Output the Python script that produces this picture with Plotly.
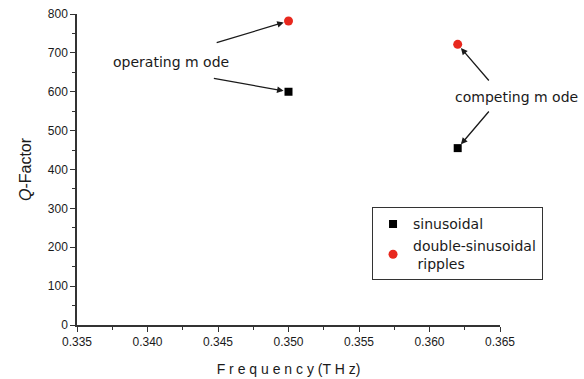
import plotly.graph_objects as go

freq_sin = [0.350, 0.362]
q_sin = [600, 455]
freq_dbl = [0.350, 0.362]
q_dbl = [782, 722]

x_ticks = [0.335, 0.340, 0.345, 0.350, 0.355, 0.360, 0.365]
x_labels = ["0.335", "0.340", "0.345", "0.350", "0.355", "0.360", "0.365"]
y_ticks = [0, 100, 200, 300, 400, 500, 600, 700, 800]

fig = go.Figure()
fig.add_trace(go.Scatter(x=freq_sin, y=q_sin, mode="markers", name="sinusoidal",
                         marker=dict(symbol="square", size=8, color="black")))
fig.add_trace(go.Scatter(x=freq_dbl, y=q_dbl, mode="markers", name="double-sinusoidal<br> ripples",
                         marker=dict(symbol="circle", size=9, color="#e8281e")))

font = dict(family="Liberation Sans, Arial, sans-serif", color="#1a1a1a")
wfont = dict(family="DejaVu Sans, Verdana, sans-serif", color="#1a1a1a")

arrow = dict(showarrow=True, arrowhead=2, arrowsize=1, arrowwidth=1.3, arrowcolor="#1a1a1a",
             axref="x", ayref="y", standoff=5, text="")
fig.add_annotation(x=freq_dbl[0], y=q_dbl[0], ax=0.3448, ay=725, **arrow)
fig.add_annotation(x=freq_sin[0], y=q_sin[0], ax=0.3446, ay=635, **arrow)
fig.add_annotation(x=freq_dbl[1], y=q_dbl[1], ax=0.3643, ay=625, **arrow)
fig.add_annotation(x=freq_sin[1], y=q_sin[1], ax=0.3643, ay=553, **arrow)
fig.add_annotation(x=0.3417, y=676, text="operating m ode", showarrow=False,
                   font=dict(size=14, **wfont))
fig.add_annotation(xref="paper", yref="paper", x=1.19, xanchor="right", y=0.733, yanchor="middle",
                   text="competing m ode", showarrow=False, font=dict(size=14, **wfont))

fig.update_layout(
    width=584, height=379,
    margin=dict(l=77, r=84, t=14, b=54, autoexpand=False),
    paper_bgcolor="white", plot_bgcolor="white",
    font=dict(size=12, **font),
    legend=dict(x=0.697, y=0.379, xanchor="left", yanchor="top",
                bordercolor="#333", borderwidth=1.2, bgcolor="white",
                font=dict(size=14, **wfont), tracegroupgap=2),
    xaxis=dict(range=[0.335, 0.365], tickvals=x_ticks, ticktext=x_labels, automargin=False,
               showgrid=False, zeroline=False, showline=True, linecolor="#333", linewidth=1.5,
               ticks="outside", ticklen=5, tickwidth=1.2, tickcolor="#333",
               minor=dict(dtick=0.0025, ticks="outside", ticklen=3, tickcolor="#333"),
               title=dict(text="F r e q u e n c y (T H z)", font=dict(size=14, **font), standoff=16)),
    yaxis=dict(range=[0, 800], tickvals=y_ticks, automargin=False,
               showgrid=False, zeroline=False, showline=True, linecolor="#333", linewidth=1.5,
               ticks="outside", ticklen=5, tickwidth=1.2, tickcolor="#333",
               minor=dict(dtick=50, ticks="outside", ticklen=3, tickcolor="#333"),
               title=dict(text="<i>Q</i>-Factor", font=dict(size=16, **font), standoff=12)),
    showlegend=True,
)

fig.write_html("out.html")
